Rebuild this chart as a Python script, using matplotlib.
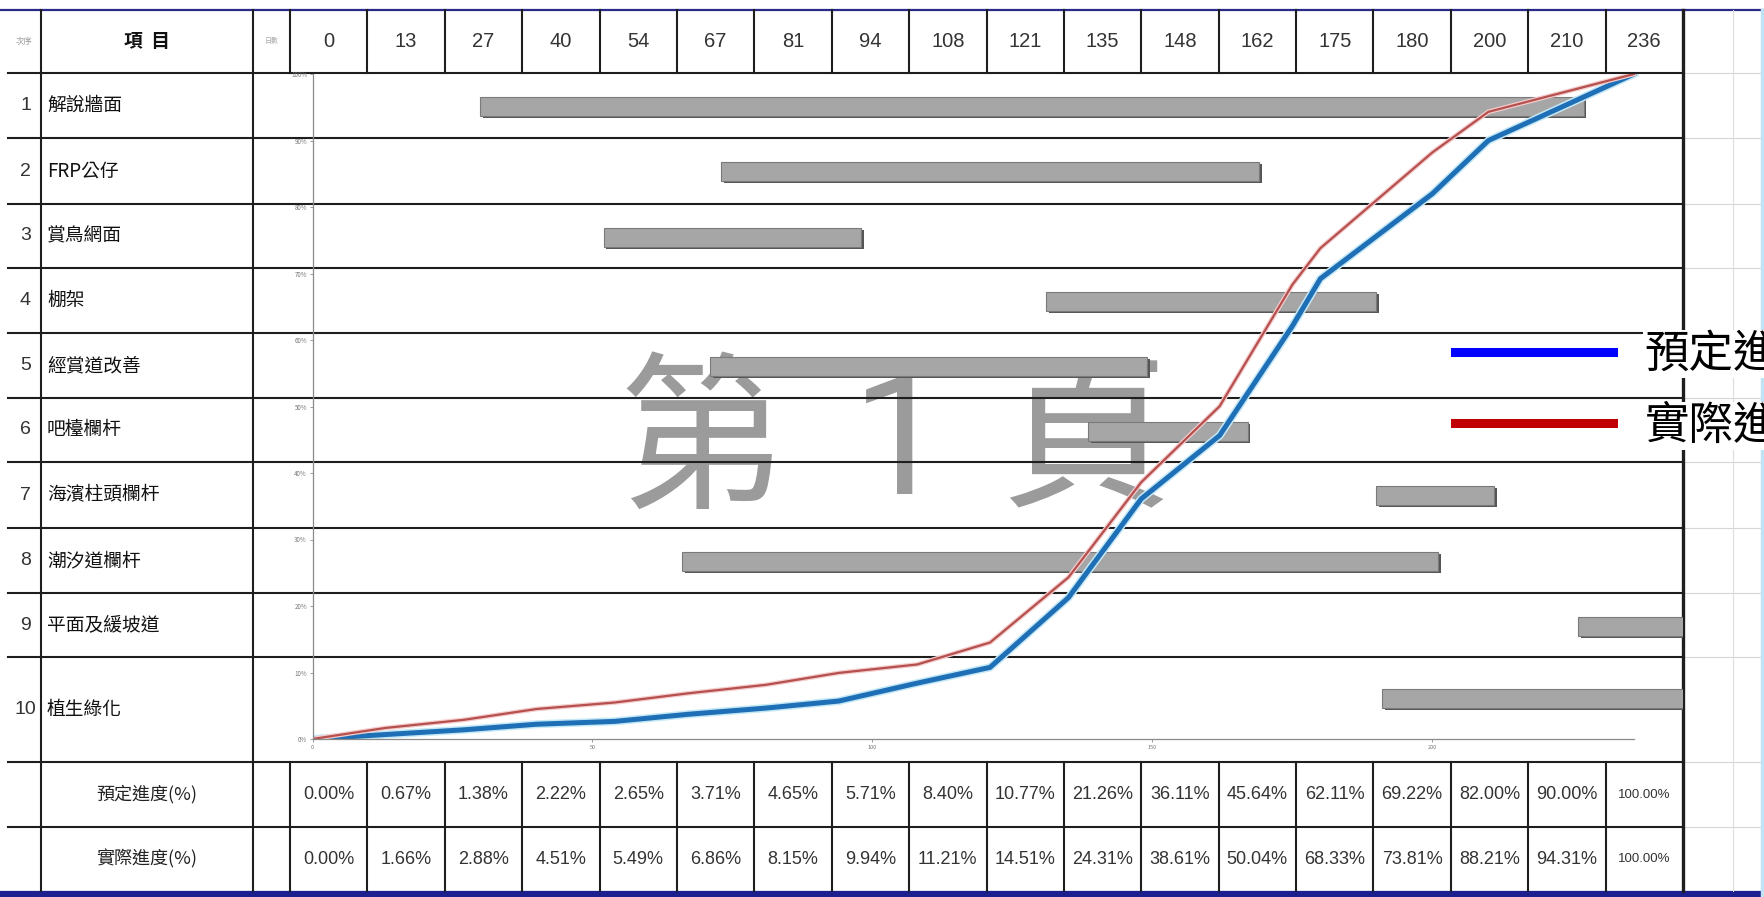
import matplotlib
matplotlib.use('Agg')
import matplotlib.pyplot as plt
import matplotlib.patheffects as pe
from matplotlib.lines import Line2D
from matplotlib import font_manager

plt.rcParams['font.family'] = ['Noto Sans CJK TC', 'DejaVu Sans']

# ---- data ----
days = [0, 13, 27, 40, 54, 67, 81, 94, 108, 121, 135, 148, 162, 175, 180, 200, 210, 236]
planned = [0.00, 0.67, 1.38, 2.22, 2.65, 3.71, 4.65, 5.71, 8.40, 10.77, 21.26,
           36.11, 45.64, 62.11, 69.22, 82.00, 90.00, 100.00]
actual = [0.00, 1.66, 2.88, 4.51, 5.49, 6.86, 8.15, 9.94, 11.21, 14.51, 24.31,
          38.61, 50.04, 68.33, 73.81, 88.21, 94.31, 100.00]
items = ['解說牆面', 'FRP公仔', '賞鳥網面', '棚架', '經賞道改善', '吧檯欄杆',
         '海濱柱頭欄杆', '潮汐道欄杆', '平面及緩坡道', '植生綠化']
start_day = [30, 73, 52, 131, 71, 138.5, 190, 66, 226, 191]
end_day = [227, 169, 98, 190, 149, 167, 211, 201, 250, 250]
row_labels = ['預定進度(%)', '實際進度(%)']
legend_labels = ['預定進度', '實際進度']
watermark = ['第', '1', '頁']

# ---- layout (pixels of the 1764x897 picture) ----
W, H = 1764, 897
top_line = 10
row_lines = [73, 138, 204, 268, 333, 398, 462, 528, 593, 657, 762, 827, 891]
left_edge = 8
col_no = 41
col_item = 253
col_days = 290
right = 1683
col_w = (right - col_days) / len(days)
x0_px, x236_px = 312.5, 1634
y0_px, y100_px = 739, 74
wm_x = [703, 900, 1086]

names = {f.name for f in font_manager.fontManager.ttflist}
if 'Liberation Sans Narrow' in names:
    num_font = ['Liberation Sans Narrow', 'DejaVu Sans']
    fs_head, fs_val, fs_small = 15.5, 15.5, 11
else:
    num_font = ['Liberation Sans', 'DejaVu Sans']
    fs_head, fs_val, fs_small = 14.5, 13, 9.5

fig = plt.figure(figsize=(W / 100, H / 100), dpi=100)

# table layer
tab = fig.add_axes([0, 0, 1, 1], zorder=1)
tab.set_xlim(0, W)
tab.set_ylim(H, 0)
tab.axis('off')

# watermark
for ch, x in zip(watermark, wm_x):
    tab.text(x, 448, ch, fontsize=122, color='#9b9b9b', ha='center',
             va='center', family=['Roboto', 'Noto Sans CJK TC'], zorder=0.5)

line_c = '#1e1e1e'
lw = 1.5
# horizontal lines
for y in row_lines[:-1]:
    tab.plot([left_edge, right], [y, y], color=line_c, lw=lw, zorder=1)
    tab.plot([right, W], [y, y], color='#d6d6d6', lw=0.8, zorder=1)
tab.plot([0, W], [top_line, top_line], color='#2a2a8a', lw=1.6, zorder=1)
tab.plot([0, W], [894, 894], color='#1b1f8f', lw=4.5, zorder=1)
# vertical lines
for x in [col_no, col_item]:
    tab.plot([x, x], [top_line, row_lines[-1]], color=line_c, lw=lw, zorder=1)
tab.plot([right, right], [top_line, row_lines[-1]], color=line_c, lw=2.4, zorder=1)
tab.plot([1733, 1733], [top_line, row_lines[-1]], color='#dcdcdc', lw=0.8, zorder=1)
tab.plot([1762, 1762], [top_line, H], color='#bfe3f5', lw=2.5, zorder=1)
for k in range(len(days)):
    x = col_days + k * col_w
    tab.plot([x, x], [top_line, row_lines[0]], color=line_c, lw=lw, zorder=1)
    tab.plot([x, x], [row_lines[-3], row_lines[-1]], color=line_c, lw=lw, zorder=1)

# header texts
hy = (top_line + row_lines[0]) / 2
tab.text((left_edge + col_no) / 2, hy, '次序', fontsize=6, color='#999999', ha='center', va='center')
tab.text((col_no + col_item) / 2, hy, '項  目', fontsize=13.5, fontweight='bold',
         color='#111111', ha='center', va='center')
tab.text((col_item + col_days) / 2, hy, '日數', fontsize=5, color='#aaaaaa', ha='center', va='center')
for k, d in enumerate(days):
    tab.text(col_days + (k + 0.5) * col_w, hy, str(d), fontsize=fs_head, family=num_font,
             color='#333333', ha='center', va='center')

# item rows
for i, name in enumerate(items):
    cy = (row_lines[i] + row_lines[i + 1]) / 2
    tab.text((left_edge + col_no) / 2 + 1, cy, str(i + 1), fontsize=14,
             family=['Liberation Sans', 'DejaVu Sans'], color='#333333', ha='center', va='center')
    tab.text(col_no + 6, cy, name, fontsize=13.5, color='#111111', ha='left', va='center')

# progress rows
for r, (lab, vals) in enumerate(zip(row_labels, [planned, actual])):
    cy = (row_lines[-3 + r] + row_lines[-2 + r]) / 2
    tab.text((col_no + col_item) / 2, cy, lab, fontsize=13, color='#222222',
             ha='center', va='center')
    for k, v in enumerate(vals):
        s = '%.2f%%' % v
        fs = fs_val if len(s) <= 6 else fs_small
        tab.text(col_days + (k + 0.5) * col_w, cy, s, fontsize=fs, family=num_font,
                 color='#333333', ha='center', va='center')

# chart axes
pos = [x0_px / W, 1 - y0_px / H, (right - x0_px) / W, (y0_px - y100_px) / H]
xmax = (right - x0_px) / (x236_px - x0_px) * days[-1]

axb = fig.add_axes(pos, zorder=2)
axb.set_xlim(0, xmax)
axb.set_ylim(y0_px, y100_px)
axb.axis('off')
axb.patch.set_visible(False)
bar_y = []
for i in range(len(items)):
    off = 41 if i == len(items) - 1 else 33
    bar_y.append(row_lines[i] + off)
widths = [e - s for s, e in zip(start_day, end_day)]
axb.barh(bar_y, widths, left=start_day, height=19, color='#a6a6a6',
         edgecolor='#7a7a7a', linewidth=0.8,
         path_effects=[pe.SimplePatchShadow(offset=(2, -2), shadow_rgbFace='#555555', alpha=1),
                       pe.Normal()])

ax = fig.add_axes(pos, zorder=3)
ax.patch.set_visible(False)
ax.set_xlim(0, xmax)
ax.set_ylim(0, 100)
ax.plot(days, planned, color='#1e6fb6', lw=3.6, solid_joinstyle='miter',
        path_effects=[pe.Stroke(linewidth=5.8, foreground='#c4e8f6'), pe.Normal()])
ax.plot(days, actual, color='#b5504e', lw=1.6,
        path_effects=[pe.Stroke(linewidth=3.4, foreground='#f4cccc'), pe.Normal()])
for s in ['top', 'right']:
    ax.spines[s].set_visible(False)
ax.spines['left'].set_color('#8a8a8a')
ax.spines['bottom'].set_color('#8a8a8a')
ax.spines['left'].set_linewidth(0.9)
ax.spines['bottom'].set_linewidth(0.9)
ax.spines['left'].set_bounds(0, 100)
ax.spines['bottom'].set_bounds(0, days[-1])
ax.set_yticks(range(0, 101, 10))
ax.set_yticklabels(['%d%%' % v for v in range(0, 101, 10)])
ax.set_xticks(range(0, 201, 50))
ax.tick_params(axis='y', labelsize=4.5, labelcolor='#777777', colors='#8a8a8a',
               length=2, width=0.6, pad=2)
ax.tick_params(axis='x', labelsize=4, labelcolor='#777777', colors='#8a8a8a',
               length=2, width=0.6, pad=2)

# legend
handles = [Line2D([], [], color='#0000ff', lw=6.5), Line2D([], [], color='#c00000', lw=6.5)]
leg = fig.legend(handles, legend_labels, loc='center left',
                 bbox_to_anchor=(1455 / W, 1 - 390 / H), frameon=False, fontsize=32,
                 handlelength=3.55, handletextpad=0.72, labelspacing=0.58,
                 borderpad=0, borderaxespad=0)
for t in leg.get_texts():
    t.set_bbox(dict(facecolor='white', edgecolor='none', pad=1))

fig.savefig('out.png', dpi=100)
